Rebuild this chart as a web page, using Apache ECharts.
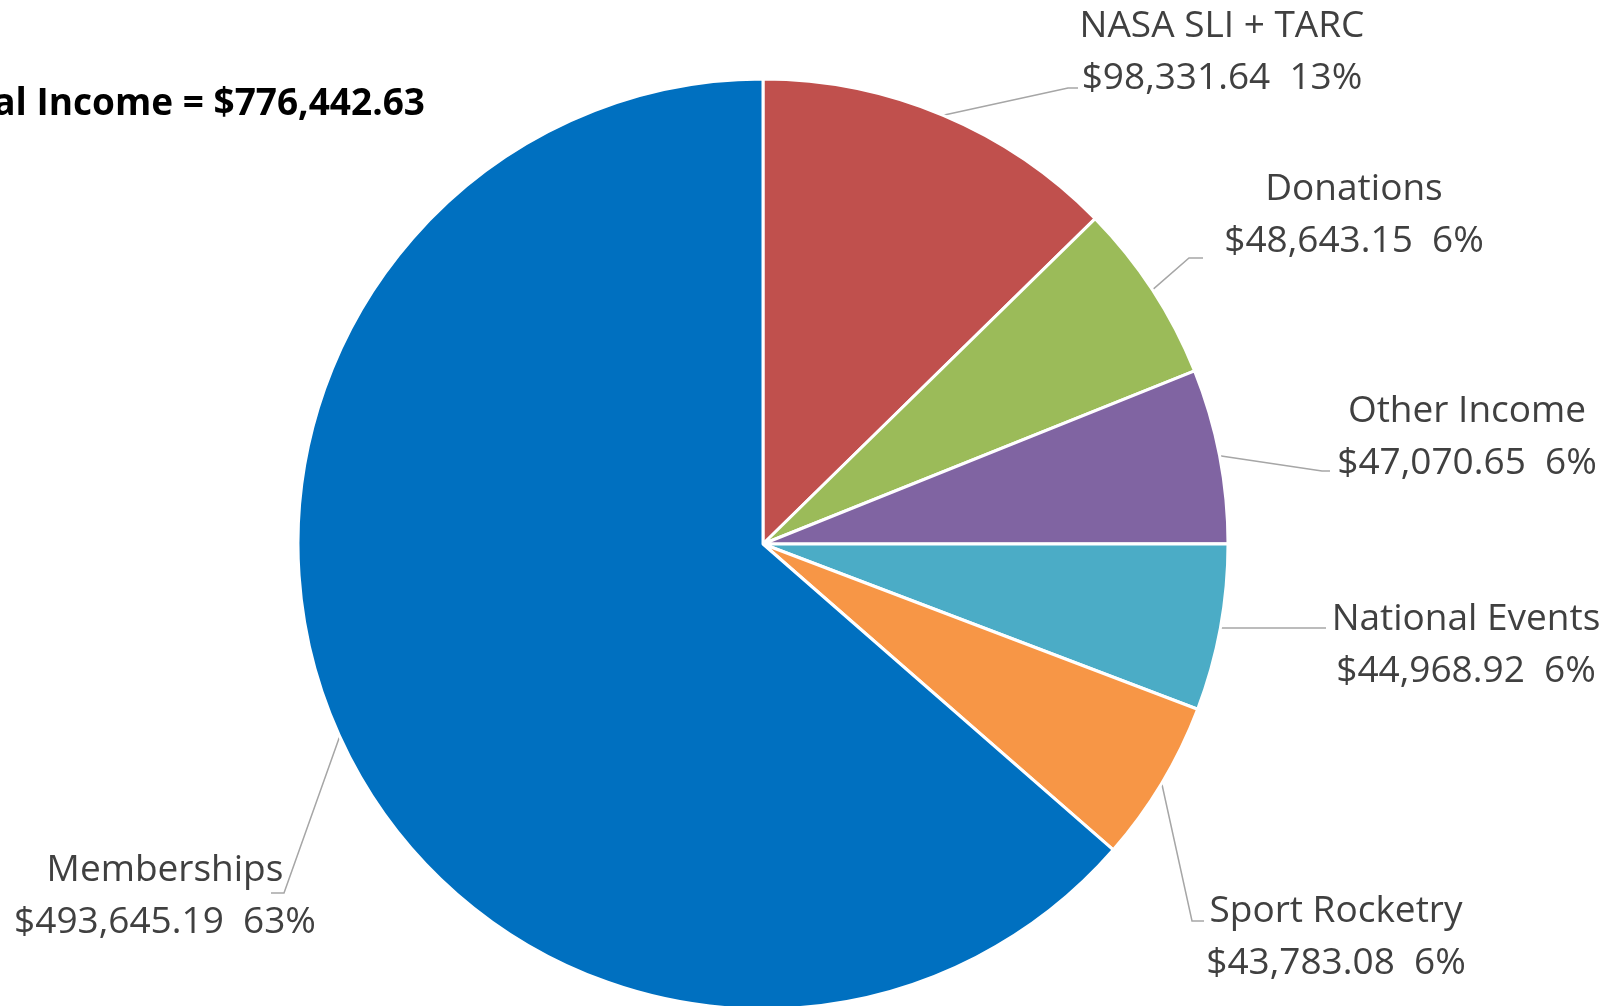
<!DOCTYPE html>
<html>
<head>
<meta charset="utf-8">
<script src="https://cdn.jsdelivr.net/npm/echarts@6/dist/echarts.min.js"></script>
<style>
html,body{margin:0;padding:0;background:#fff;}
#chart{width:1619px;height:1006px;}
</style>
</head>
<body>
<div id="chart"></div>
<script>
// ---- data ----
const categories = ['NASA SLI + TARC', 'Donations', 'Other Income', 'National Events', 'Sport Rocketry', 'Memberships'];
const amounts = [98331.64, 48643.15, 47070.65, 44968.92, 43783.08, 493645.19];
const percentLabels = [13, 6, 6, 6, 6, 63];
const titleText = 'Total Income = $776,442.63';
const colors = ['#C0504D', '#9BBB59', '#8064A2', '#4BACC6', '#F79646', '#0070C0'];

// ---- label placement (layout, not data) ----
const labelCenters = [[1222, 52], [1354, 215], [1467, 437], [1466, 645], [1336, 937], [165, 896]];
const leaderEnds = [
  [[1068, 88], [1078, 88]],
  [[1189, 258], [1203, 258]],
  [[1322, 471], [1330, 471]],
  [[1318, 628], [1326, 628]],
  [[1192, 921], [1204, 921]],
  [[284, 893], [271, 893]]
];

function fmtMoney(v) {
  const parts = v.toFixed(2).split('.');
  parts[0] = parts[0].replace(/\B(?=(\d{3})+(?!\d))/g, ',');
  return '$' + parts.join('.');
}

const chart = echarts.init(document.getElementById('chart'), null, {renderer: 'canvas'});
const FONT = '"Open Sans", "Noto Sans", sans-serif';

chart.setOption({
  animation: false,
  color: colors,
  graphic: [{
    type: 'text',
    x: 425,
    y: 104,
    style: {
      text: titleText,
      textAlign: 'right',
      textVerticalAlign: 'middle',
      font: 'bold 37px ' + FONT,
      fill: '#000000'
    }
  }],
  series: [{
    type: 'pie',
    center: [763, 544],
    radius: 465,
    startAngle: 90,
    clockwise: true,
    silent: true,
    itemStyle: {borderColor: '#ffffff', borderWidth: 3},
    data: categories.map((c, i) => ({name: c, value: amounts[i]})),
    label: {
      show: true,
      position: 'outside',
      color: '#404040',
      fontFamily: FONT,
      fontSize: 37,
      lineHeight: 52,
      align: 'center',
      overflow: 'none',
      width: 600,
      formatter: p => p.name + '\n' + fmtMoney(p.value) + '  ' + percentLabels[p.dataIndex] + '%'
    },
    labelLine: {
      show: true,
      length: 20,
      length2: 10,
      lineStyle: {color: '#A6A6A6', width: 1.5}
    },
    labelLayout: function (params) {
      const i = params.dataIndex;
      const pts = params.labelLinePoints;
      const start = pts ? pts[0] : [763, 544];
      return {
        x: labelCenters[i][0],
        y: labelCenters[i][1],
        align: 'center',
        verticalAlign: 'middle',
        labelLinePoints: [start, leaderEnds[i][0], leaderEnds[i][1]]
      };
    }
  }]
});
</script>
</body>
</html>
